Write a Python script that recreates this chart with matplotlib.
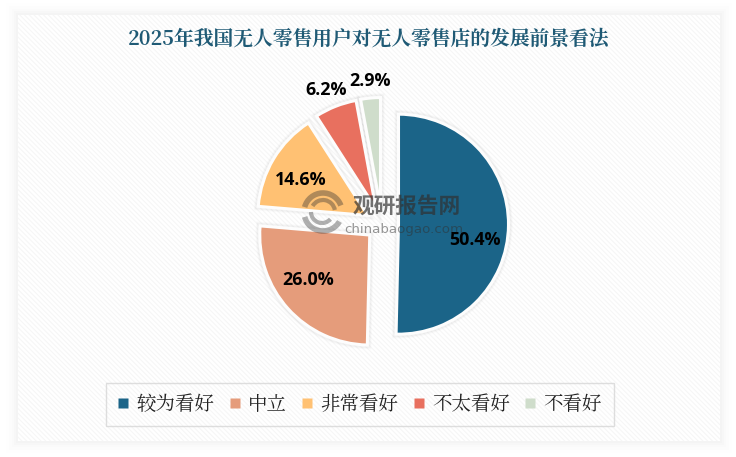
import os
import matplotlib
matplotlib.use("Agg")
import matplotlib.pyplot as plt
from matplotlib import font_manager as fm
from matplotlib.patches import Rectangle, Arc
from matplotlib.lines import Line2D

TITLE = "2025年我国无人零售用户对无人零售店的发展前景看法"
categories = ["较为看好", "中立", "非常看好", "不太看好", "不看好"]
values = [50.4, 26.0, 14.6, 6.2, 2.9]
colors = ["#1B6488", "#E59C7B", "#FFC173", "#E8705F", "#CFDDCB"]
value_labels = ["50.4%", "26.0%", "14.6%", "6.2%", "2.9%"]

W, H = 736, 457
plt.rcParams["hatch.linewidth"] = 0.8

NOTO_DIR = "/usr/share/fonts/opentype/noto"


def cjk_prop(filename, size):
    path = os.path.join(NOTO_DIR, filename)
    if os.path.exists(path):
        return fm.FontProperties(fname=path, size=size)
    return fm.FontProperties(family="Noto Sans CJK SC", size=size)


fig = plt.figure(figsize=(W / 100, H / 100), dpi=100, facecolor="white")
ax = fig.add_axes([0, 0, 1, 1])
ax.set_xlim(0, W)
ax.set_ylim(0, H)
ax.axis("off")


def Y(y):
    return H - y


# Card with soft shadow and faint diagonal texture
for grow, a in [(12, .005), (9, .007), (6, .009), (4, .011), (2, .013)]:
    ax.add_patch(Rectangle((18 - grow, Y(441) - grow), 702 + 2 * grow, 426 + 2 * grow,
                           fc="black", ec="none", alpha=a, zorder=0))
ax.add_patch(Rectangle((18, Y(441)), 702, 426, fc="white", ec="none", zorder=1))
ax.add_patch(Rectangle((18, Y(441)), 702, 426, fc="none", ec="#F6F6F6", lw=0,
                       hatch="\\\\\\\\\\\\\\", zorder=1.1))

ax.text(369, Y(39), TITLE, ha="center", va="center", color="#1F5A75",
        fontproperties=cjk_prop("NotoSerifCJK-Bold.ttc", 14.25), zorder=5)

# Pie: soft shadow pass, then the wedges
center = (382, Y(224))
radius = 110
explode = [16.5] * len(values)
for lw, a in [(6, .02), (4.5, .03)]:
    ax.pie(values, explode=explode, radius=radius, center=center, startangle=90,
           counterclock=False, colors=["none"] * len(values), frame=True,
           wedgeprops=dict(edgecolor=(0, 0, 0, a), linewidth=lw, zorder=2))
wedges, _ = ax.pie(values, explode=explode, radius=radius, center=center, startangle=90,
                   counterclock=False, colors=colors, frame=True,
                   wedgeprops=dict(edgecolor="#FDFDFD", linewidth=2.2, zorder=3))
ax.set_xlim(0, W)
ax.set_ylim(0, H)
ax.set_aspect("auto")
ax.axis("off")

# Watermark
wm = "#303030"
for cx, cy, r, t1, t2, lw in [(323, 212, 19, 20, 165, 4), (323, 212, 12, 10, 150, 3),
                              (323, 212, 19, 195, 330, 4), (322, 212, 11, 180, 320, 3)]:
    ax.add_patch(Arc((cx, Y(cy)), 2 * r, 2 * r, theta1=t1, theta2=t2, color=wm, lw=lw,
                     alpha=.38, zorder=4))
ax.text(406.5, Y(207), "观研报告网", ha="center", va="center", color=wm, alpha=.68,
        fontproperties=cjk_prop("NotoSansCJK-Bold.ttc", 15.6), zorder=4)
ax.text(404, Y(229), "chinabaogao.com", ha="center", va="center", fontsize=9.6,
        color=wm, alpha=.5, family="DejaVu Sans", zorder=4)

# Value labels
label_px = [(475, 240), (308, 280), (301, 180), (326, 90), (370, 81)]
for txt, (x, y) in zip(value_labels, label_px):
    ax.text(x, Y(y), txt, ha="center", va="center", fontsize=12.9, fontweight="bold",
            color="black", family="Open Sans", zorder=6)

# Legend
handles = [Line2D([], [], ls="", marker="s", ms=7.2, mfc=c, mec="none") for c in colors]
leg = ax.legend(handles, categories, loc="center", bbox_to_anchor=(360 / W, Y(404.5) / H),
                ncol=5, frameon=True, fancybox=False, edgecolor="#D6D6D6", facecolor="none",
                prop=cjk_prop("NotoSerifCJK-Regular.ttc", 14),
                labelcolor="#222222", handletextpad=0.4, columnspacing=0.77,
                handlelength=0.55, borderpad=0.6, borderaxespad=0)
leg.get_frame().set_linewidth(1.0)
leg.set_zorder(5)

fig.savefig("out.png", dpi=100, facecolor="white")
